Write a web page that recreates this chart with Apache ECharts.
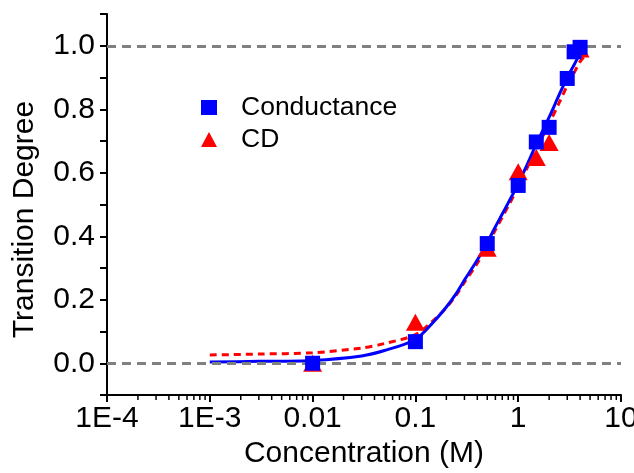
<!DOCTYPE html>
<html>
<head>
<meta charset="utf-8">
<script src="https://cdn.jsdelivr.net/npm/echarts@6/dist/echarts.min.js"></script>
<style>
  html, body { margin: 0; padding: 0; background: #fff; }
  #chart { width: 634px; height: 473px; }
</style>
</head>
<body>
<div id="chart"></div>
<script>
// measured points
const condX = [0.01, 0.1, 0.5, 1, 1.5, 2, 3, 3.5, 4];
const condY = [0.0, 0.068, 0.377, 0.56, 0.697, 0.743, 0.897, 0.981, 0.995];
const cdX = [0.01, 0.1, 0.5, 1, 1.5, 2, 4];
const cdY = [0.0, 0.129, 0.362, 0.603, 0.648, 0.695, 0.99];

// fitted curves
const fitX = [0.001, 0.003, 0.01, 0.03, 0.05, 0.1, 0.15, 0.2, 0.25, 0.3, 0.4, 0.5, 0.6, 0.7, 0.8, 1, 1.2, 1.5, 2, 2.5, 3, 3.5, 4, 4.5];
const fitCondY = [0.004, 0.006, 0.009, 0.023, 0.04, 0.075, 0.13, 0.177, 0.22, 0.262, 0.325, 0.38, 0.43, 0.47, 0.505, 0.565, 0.62, 0.69, 0.775, 0.845, 0.9, 0.94, 0.975, 0.995];
const fitCdY = [0.026, 0.029, 0.033, 0.048, 0.062, 0.09, 0.135, 0.175, 0.215, 0.255, 0.315, 0.37, 0.42, 0.46, 0.495, 0.555, 0.61, 0.675, 0.755, 0.82, 0.875, 0.915, 0.95, 0.97];

// x-axis minor tick positions (log decades 1E-4 .. 10)
const minorTickX = [];
[0.0001, 0.001, 0.01, 0.1, 1].forEach(d => {
  [2, 3, 4, 5, 6, 7, 8, 9].forEach(m => minorTickX.push(+(d * m).toPrecision(3)));
});

const refLines = [0, 1];
const yMin = -0.1;

const font = 'Liberation Sans, Arial, sans-serif';
const zip = (xs, ys) => xs.map((x, i) => [x, ys[i]]);

const chart = echarts.init(document.getElementById('chart'));
chart.setOption({
  animation: false,
  grid: {left: 107, right: 13, top: 14, bottom: 78, outerBoundsMode: 'none', containLabel: false},
  legend: {
    data: [
      {name: 'Conductance', icon: 'rect'},
      {name: 'CD', icon: 'triangle'}
    ],
    orient: 'vertical',
    left: 196,
    top: 89,
    itemWidth: 16,
    itemHeight: 15,
    itemGap: 5,
    textStyle: {fontFamily: font, fontSize: 26.5, color: '#000', padding: [0, 0, 0, 19]}
  },
  xAxis: {
    type: 'log',
    logBase: 10,
    min: 0.0001,
    max: 10,
    name: 'Concentration (M)',
    nameLocation: 'middle',
    nameGap: 42,
    nameTextStyle: {fontFamily: font, fontSize: 30, color: '#000'},
    axisLine: {onZero: false, lineStyle: {color: '#000', width: 2}},
    axisTick: {inside: false, length: 7, lineStyle: {color: '#000', width: 2}},
    splitLine: {show: false},
    axisLabel: {
      fontFamily: font, fontSize: 30, color: '#000', margin: 9,
      formatter: v => v < 0.005 ? '1E' + Math.round(Math.log10(v)) : String(v)
    }
  },
  yAxis: {
    type: 'value',
    min: yMin,
    max: 1.1,
    interval: 0.1,
    name: 'Transition Degree',
    nameLocation: 'middle',
    nameGap: 67,
    nameTextStyle: {fontFamily: font, fontSize: 30, color: '#000', padding: [0, 30, 0, 0]},
    axisLine: {show: true, lineStyle: {color: '#000', width: 2}},
    axisTick: {show: true, length: 7, lineStyle: {color: '#000', width: 2}},
    splitLine: {show: false},
    axisLabel: {
      fontFamily: font, fontSize: 30, color: '#000', margin: 12,
      formatter: v => {
        const k = Math.round(v * 10);
        return (k % 2 === 0) ? (k / 10).toFixed(1) : '';
      }
    }
  },
  series: [
    {
      name: 'refs',
      type: 'line',
      data: [],
      silent: true,
      markLine: {
        symbol: 'none',
        silent: true,
        label: {show: false},
        lineStyle: {color: '#808080', type: [9, 6], width: 3},
        data: refLines.map(y => ({yAxis: y}))
      }
    },
    {
      name: 'minor ticks',
      type: 'custom',
      data: minorTickX.map(x => [x, yMin]),
      silent: true,
      clip: false,
      z: 10,
      renderItem: (params, api) => {
        const p = api.coord([api.value(0), api.value(1)]);
        return {
          type: 'line',
          shape: {x1: p[0], y1: p[1], x2: p[0], y2: p[1] + 5},
          style: {stroke: '#000', lineWidth: 1.5}
        };
      }
    },
    {
      name: 'CD fit',
      type: 'line',
      data: zip(fitX, fitCdY),
      smooth: 0.3,
      showSymbol: false,
      lineStyle: {color: '#ff0000', width: 3, type: [7, 5]},
      z: 3
    },
    {
      name: 'Conductance fit',
      type: 'line',
      data: zip(fitX, fitCondY),
      smooth: 0.3,
      showSymbol: false,
      lineStyle: {color: '#0000ff', width: 3},
      z: 4
    },
    {
      name: 'CD',
      type: 'scatter',
      data: zip(cdX, cdY),
      symbol: 'triangle',
      symbolSize: [19, 17],
      itemStyle: {color: '#ff0000', opacity: 1},
      z: 5
    },
    {
      name: 'Conductance',
      type: 'scatter',
      data: zip(condX, condY),
      symbol: 'rect',
      symbolSize: 15,
      itemStyle: {color: '#0000ff', opacity: 1},
      z: 6
    }
  ]
});
</script>
</body>
</html>
